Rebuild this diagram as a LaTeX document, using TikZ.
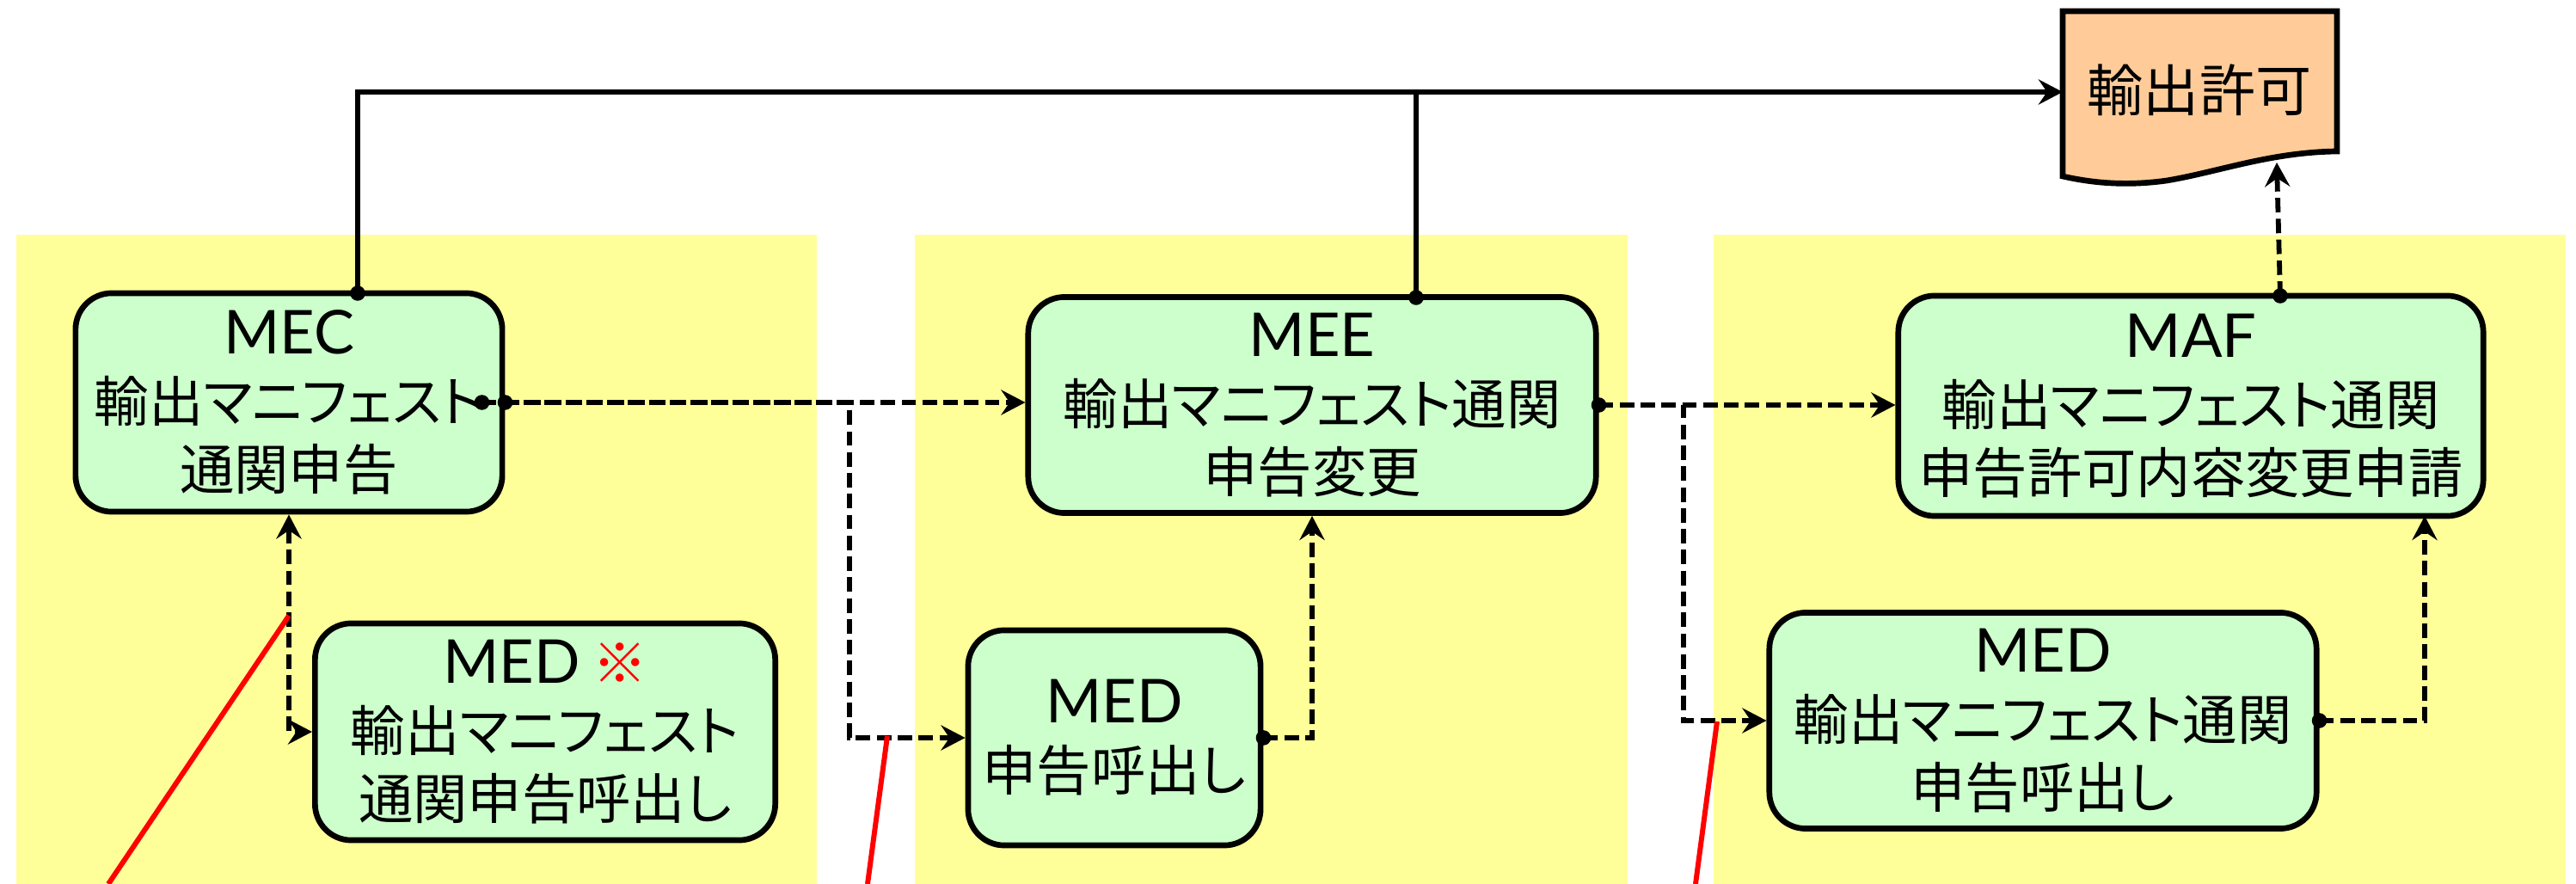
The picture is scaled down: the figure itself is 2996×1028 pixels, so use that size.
\documentclass[tikz,border=0pt]{standalone}
\usepackage{fontspec}
\setmainfont[RawFeature=+palt]{Noto Sans CJK JP}
\newfontfamily\titlefont{Lato}
\newcommand{\ttl}[1]{{\titlefont\fontsize{20pt}{22.5pt}\selectfont #1}}
\usetikzlibrary{arrows.meta,calc}
\definecolor{panelyellow}{HTML}{FFFF99}
\definecolor{boxgreen}{HTML}{CCFFCC}
\definecolor{docorange}{HTML}{FFCC99}
\tikzset{
  panel/.style={fill=panelyellow, draw=none},
  box/.style={draw, line width=1.9pt, fill=boxgreen, rounded corners=12pt, align=center,
    inner sep=0pt, font=\fontsize{18pt}{22.5pt}\selectfont},
  conn/.style={line width=1.55pt},
  dconn/.style={line width=1.65pt, dash pattern=on 4.8pt off 2.1pt},
  pointer/.style={red, line width=1.7pt},
  >={Stealth[length=8pt,width=8.3pt,inset=2.8pt]}
}
\begin{document}
\begin{tikzpicture}[x=0.01cm,y=-0.01cm]
\useasboundingbox (0,0) rectangle (2996,1028);
% panels
\fill[panel] (19,273) rectangle (950,1028);
\fill[panel] (1064,273) rectangle (1893,1028);
\fill[panel] (1993,273) rectangle (2984,1028);
% document
\draw[line width=1.9pt, fill=docorange] (2399,13) -- (2718,13) -- (2718,176)
  .. controls (2640,177) and (2580,200) .. (2520,210)
  .. controls (2470,217) and (2430,212) .. (2399,205) -- cycle;
\node[font=\fontsize{18.5pt}{22pt}\selectfont] (doc) at (2558,105) {輸出許可};
\coordinate (docW) at (2399,107);
\coordinate (docB) at (2648,189);
% boxes
\node[box, minimum width=4.96cm, minimum height=2.54cm] (MEC) at (336,468) {\ttl{MEC}\\輸出マニフェスト\\通関申告};
\node[box, minimum width=5.35cm, minimum height=2.52cm] (MEDa) at (634,851) {\ttl{MED} {\color{red}※}\\輸出マニフェスト\\通関申告呼出し};
\node[box, minimum width=6.60cm, minimum height=2.51cm] (MEE) at (1526,471) {\ttl{MEE}\\輸出マニフェスト通関\\申告変更};
\node[box, minimum width=3.40cm, minimum height=2.50cm] (MEDb) at (1296,858) {\ttl{MED}\\申告呼出し};
\node[box, minimum width=6.80cm, minimum height=2.56cm] (MAF) at (2548,472) {\ttl{MAF}\\輸出マニフェスト通関\\申告許可内容変更申請};
\node[box, minimum width=6.36cm, minimum height=2.51cm] (MEDc) at (2376,838) {\ttl{MED}\\輸出マニフェスト通関\\申告呼出し};
% helper coordinates
\coordinate (mecTop) at (416,341);
\coordinate (meeTop) at (1647,346);
\coordinate (mafTop) at (2652,344);
\coordinate (mecIn) at ($(MEC.east)+(-27,0)$);
\coordinate (split1) at (988,468);
\coordinate (split2) at (1958,471);
\coordinate (mafBot) at (2820,600);
% solid connectors
\draw[conn,->] (mecTop) |- (docW);
\draw[conn] (meeTop) -- (meeTop |- docW);
% dashed connectors
\draw[dconn,->] (MEC.east) -- (MEE.west |- MEC.east);
\draw[dconn,->] (mecIn) -- (split1) |- (MEDb.west);
\draw[dconn,<->] (MEC.south) |- (MEDa.west);
\draw[dconn,->] (MEDb.east) -| (MEE.south);
\draw[dconn,->] (MEE.east) -- (MAF.west |- MEE.east);
\draw[dconn,->] (MEE.east) -- (split2) |- (MEDc.west);
\draw[dconn,->] (MEDc.east) -| (mafBot);
\draw[dconn,->] (mafTop) -- (docB);
% dots
\foreach \p in {mecTop,meeTop,mafTop,mecIn,MEC.east,MEE.east,MEDb.east,MEDc.east}
  \fill (\p) circle (2.5pt);
% red pointer lines
\draw[pointer] (336,716) -- (126,1028);
\draw[pointer] (1032,856) -- (1009,1028);
\draw[pointer] (1997,839) -- (1972,1028);
\end{tikzpicture}
\end{document}
